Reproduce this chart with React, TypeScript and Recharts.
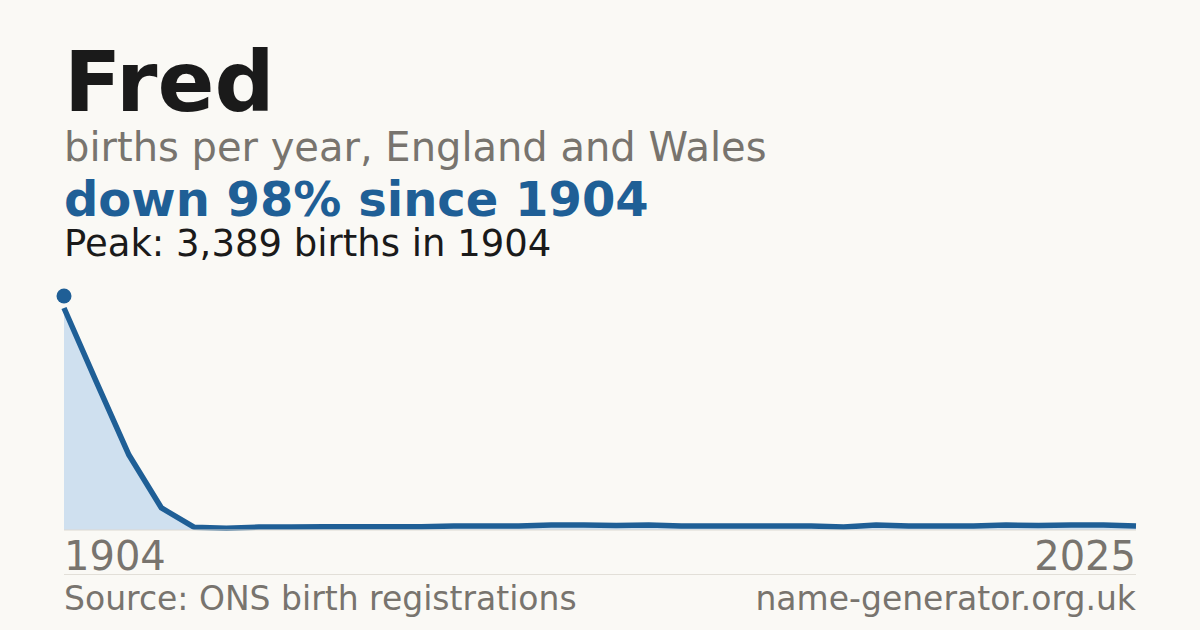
import { AreaChart, Area, XAxis, YAxis, ReferenceDot } from 'recharts'

// births per data point
const YEARS = [
  1904, 1914, 1924, 1934, 1944, 1954, 1964, 1974, 1984, 1994,
  2002, 2003, 2004, 2005, 2006, 2007, 2008, 2009, 2010, 2011, 2012, 2013,
  2014, 2015, 2016, 2017, 2018, 2019, 2020, 2021, 2022, 2023, 2024, 2025,
]
const BIRTHS = [
  3215, 2143, 1086, 319, 40, 25, 43, 43, 48, 48,
  48, 48, 58, 58, 58, 72, 72, 64, 72, 58, 58, 58,
  58, 58, 43, 72, 58, 58, 58, 72, 64, 72, 72, 58,
]
const PEAK_YEAR = 1904
const PEAK_BIRTHS = 3389
const TICK_YEARS = [1904, 2025]

const BLUE = '#1f5f96'
const GREY = '#78746e'
const FONT = '"DejaVu Sans", sans-serif'

const chartData = YEARS.map((year, i) => ({ year, births: BIRTHS[i] }))

// eslint-disable-next-line @typescript-eslint/no-explicit-any
function YearTick({ x, y, payload }: any) {
  const first = payload.value === TICK_YEARS[0]
  return (
    <text
      x={x}
      y={y}
      dy={32}
      textAnchor={first ? 'start' : 'end'}
      fill={GREY}
      fontSize={40}
      fontFamily={FONT}
    >
      {payload.value}
    </text>
  )
}

// eslint-disable-next-line @typescript-eslint/no-explicit-any
function Label({ top, size, color, bold, children, right }: any) {
  return (
    <div
      style={{
        position: 'absolute',
        top,
        left: right ? undefined : 64,
        right: right ? 64 : undefined,
        fontSize: size,
        lineHeight: 0.9,
        color,
        fontWeight: bold ? 700 : 400,
        whiteSpace: 'nowrap',
      }}
    >
      {children}
    </div>
  )
}

export default function App() {
  return (
    <div
      style={{
        position: 'absolute',
        top: 0,
        left: 0,
        width: 1200,
        height: 630,
        background: '#faf9f5',
        fontFamily: FONT,
        overflow: 'hidden',
      }}
    >
      <Label top={45} size={84} color="#1a1a1a" bold>
        Fred
      </Label>
      <Label top={129} size={40} color={GREY}>
        births per year, England and Wales
      </Label>
      <Label top={178} size={48} color={BLUE} bold>
        down 98% since 1904
      </Label>
      <Label top={226.5} size={37} color="#1a1a1a">
        Peak: 3,389 births in 1904
      </Label>

      <div style={{ position: 'absolute', left: 54, top: 286 }}>
        <AreaChart
          width={1092}
          height={300}
          data={chartData}
          margin={{ top: 10, right: 10, bottom: 0, left: 10 }}
        >
          <XAxis
            dataKey="year"
            ticks={TICK_YEARS}
            interval={0}
            tick={<YearTick />}
            tickLine={false}
            axisLine={{ stroke: '#dcd9d2' }}
            height={56}
          />
          <YAxis hide domain={[0, PEAK_BIRTHS]} />
          <Area
            type="linear"
            dataKey="births"
            stroke={BLUE}
            strokeWidth={5.5}
            strokeLinejoin="round"
            fill="#cfe0ef"
            fillOpacity={1}
            dot={false}
            activeDot={false}
            isAnimationActive={false}
          />
          <ReferenceDot
            x={PEAK_YEAR}
            y={PEAK_BIRTHS}
            r={7.5}
            fill={BLUE}
            stroke="none"
            ifOverflow="visible"
          />
        </AreaChart>
      </div>

      <div
        style={{
          position: 'absolute',
          left: 64,
          top: 574,
          width: 1072,
          height: 1,
          background: '#e2dfd8',
        }}
      />
      <Label top={583.5} size={33} color={GREY}>
        Source: ONS birth registrations
      </Label>
      <Label top={583.5} size={33} color={GREY} right>
        name-generator.org.uk
      </Label>
    </div>
  )
}
